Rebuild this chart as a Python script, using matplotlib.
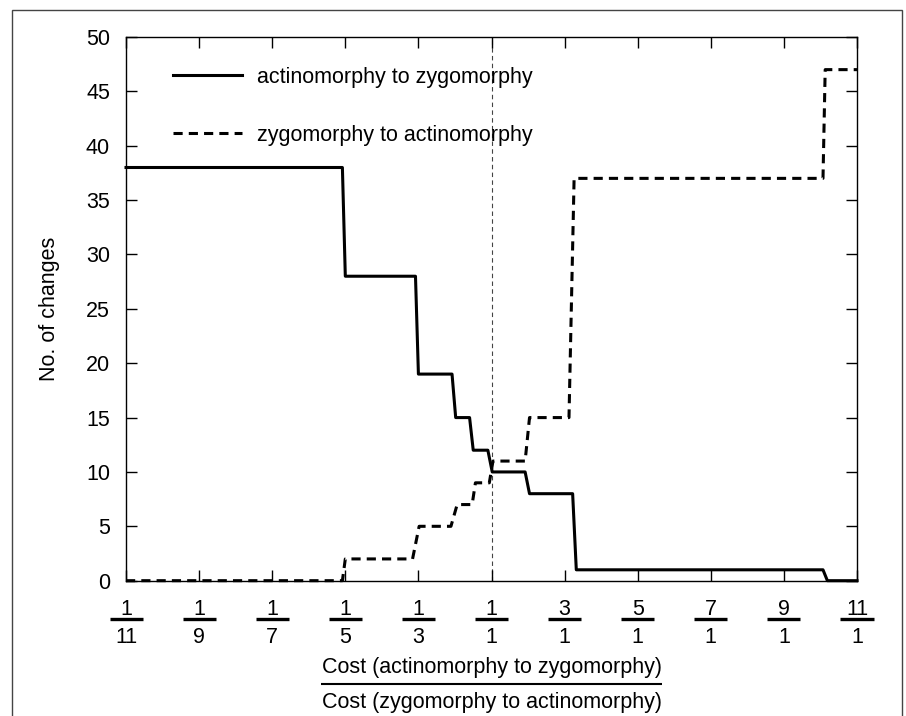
import matplotlib

matplotlib.use("Agg")
import matplotlib.pyplot as plt
import matplotlib.transforms as mtransforms
from matplotlib.patches import Rectangle

plt.rcParams["font.family"] = ["Liberation Sans", "DejaVu Sans"]
plt.rcParams["font.size"] = 15.5

# x positions are tick indices: 0 = 1/11, 5 = 1/1, 10 = 11/1
tick_num = ["1", "1", "1", "1", "1", "1", "3", "5", "7", "9", "11"]
tick_den = ["11", "9", "7", "5", "3", "1", "1", "1", "1", "1", "1"]

a2z_x = [0, 2.96, 3.0, 3.96, 4.0, 4.46, 4.51, 4.70, 4.75, 4.95, 5.01, 5.46, 5.52, 6.11, 6.16, 9.535, 9.595, 10]
a2z_y = [38, 38, 28, 28, 19, 19, 15, 15, 12, 12, 10, 10, 8, 8, 1, 1, 0, 0]

z2a_x = [0, 2.96, 3.0, 3.92, 4.01, 4.445, 4.53, 4.735, 4.78, 4.97, 5.02, 5.46, 5.52, 6.06, 6.13, 9.535, 9.565, 10]
z2a_y = [0, 0, 2, 2, 5, 5, 7, 7, 9, 9, 11, 11, 15, 15, 37, 37, 47, 47]

label_a2z = "actinomorphy to zygomorphy"
label_z2a = "zygomorphy to actinomorphy"
xlabel_top = "Cost (actinomorphy to zygomorphy)"
xlabel_bottom = "Cost (zygomorphy to actinomorphy)"


def below_axis(ax, pts):
    # blended x=data, y=axes, shifted down by pts points
    base = mtransforms.blended_transform_factory(ax.transData, ax.transAxes)
    return base + mtransforms.ScaledTranslation(0, -pts / 72, ax.figure.dpi_scale_trans)


fig = plt.figure(figsize=(9.06, 7.16), dpi=100)
fig.patches.append(
    Rectangle((12 / 906, -0.05), 890 / 906, 1.05 - 10 / 716, transform=fig.transFigure,
              fill=False, edgecolor="#444444", lw=1.0)
)
ax = fig.add_axes([0.1391, 0.189, 0.8068, 0.7593])

ax.axvline(5, color="#444444", lw=0.8, ls=(0, (4, 3)), zorder=1)
ax.plot(a2z_x, a2z_y, color="black", lw=2.2, label=label_a2z, clip_on=False, zorder=3)
ax.plot(z2a_x, z2a_y, color="black", lw=2.2, ls=(0, (3, 2)), label=label_z2a, clip_on=False, zorder=3)

ax.set_xlim(0, 10)
ax.set_ylim(0, 50)
ax.set_yticks(range(0, 51, 5))
ax.set_xticks(range(len(tick_num)))
ax.set_xticklabels([])
ax.tick_params(direction="in", top=True, right=True, length=8, width=1, pad=11.5, labelsize=15.5)
for sp in ax.spines.values():
    sp.set_linewidth(1.0)

# fraction tick labels
for i, (n, d) in enumerate(zip(tick_num, tick_den)):
    ax.text(i, 0, n, transform=below_axis(ax, 24.7), ha="center", va="baseline")
    ax.text(i, 0, d, transform=below_axis(ax, 44.9), ha="center", va="baseline")
    ax.plot([i - 0.226, i + 0.226], [0, 0], transform=below_axis(ax, 27.8),
            color="black", lw=2.4, solid_capstyle="butt", clip_on=False)

# x label as a fraction
lab_trans = lambda pts: ax.transAxes + mtransforms.ScaledTranslation(0, -pts / 72, fig.dpi_scale_trans)
ax.text(0.5, 0, xlabel_top, transform=lab_trans(66.5), ha="center", va="baseline")
ax.text(0.5, 0, xlabel_bottom, transform=lab_trans(91.7), ha="center", va="baseline")
ax.plot([0.5 - 0.2333, 0.5 + 0.2333], [0, 0], transform=lab_trans(74.4),
        color="black", lw=1.5, solid_capstyle="butt", clip_on=False)

ax.set_ylabel("No. of changes", labelpad=19)

ax.legend(loc="upper left", bbox_to_anchor=(0.064, 0.945), frameon=False,
          borderpad=0, borderaxespad=0, handlelength=3.2, handletextpad=0.7,
          labelspacing=1.72, fontsize=15.5)

fig.savefig("out.png", dpi=100)
